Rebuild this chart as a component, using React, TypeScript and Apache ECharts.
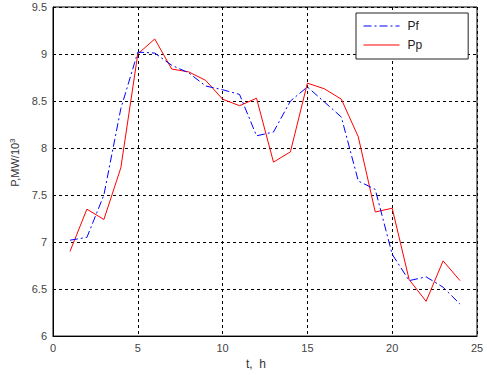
import React, { useEffect, useRef } from "react";
import * as echarts from "echarts";

const hours = [1, 2, 3, 4, 5, 6, 7, 8, 9, 10, 11, 12, 13, 14, 15, 16, 17, 18, 19, 20, 21, 22, 23, 24];
const pf = [7.02, 7.05, 7.5, 8.42, 9.02, 9.01, 8.88, 8.8, 8.66, 8.62, 8.57, 8.13, 8.17, 8.5, 8.65, 8.49, 8.33, 7.65, 7.56, 6.87, 6.59, 6.63, 6.52, 6.34];
const pp = [6.9, 7.35, 7.24, 7.79, 9.0, 9.16, 8.84, 8.81, 8.72, 8.52, 8.45, 8.53, 7.85, 7.96, 8.69, 8.63, 8.52, 8.12, 7.32, 7.36, 6.6, 6.37, 6.8, 6.59];
const seriesNames = ["Pf", "Pp"];
const xLabel = "t,  h";

export default function App() {
  const ref = useRef<HTMLDivElement>(null);
  useEffect(() => {
    if (!ref.current) return;
    const chart = echarts.init(ref.current, null, { renderer: "svg" });
    const font = "Liberation Sans, Arial, sans-serif";
    const grid = { lineStyle: { color: "#000", type: [3, 3] as any, width: 1 } };
    chart.setOption({
      animation: false,
      backgroundColor: "#fff",
      grid: { left: 51, right: 10, top: 7, bottom: 34, show: true, borderColor: "#000", borderWidth: 1, backgroundColor: "transparent" },
      legend: {
        orient: "vertical",
        left: 356,
        top: 13,
        padding: [7, 46, 8, 7],
        itemGap: 7,
        itemWidth: 36,
        itemHeight: 10,
        borderColor: "#222",
        borderWidth: 1,
        backgroundColor: "#fff",
        itemStyle: { opacity: 0 },
        lineStyle: { width: 1 },
        textStyle: { fontFamily: font, fontSize: 12, color: "#222", padding: [0, 0, 0, 3] },
        data: seriesNames,
      },
      xAxis: {
        type: "value",
        min: 0,
        max: 25,
        interval: 5,
        axisLine: { show: true, onZero: false, lineStyle: { color: "#000" } },
        axisTick: { show: false },
        splitLine: { show: true, ...grid },
        axisLabel: { fontFamily: font, fontSize: 11, color: "#444", margin: 6 },
        name: xLabel,
        nameLocation: "middle",
        nameGap: 20,
        nameTextStyle: { fontFamily: font, fontSize: 12, color: "#333", padding: [0, 18, 0, 0] },
      },
      yAxis: {
        type: "value",
        min: 6,
        max: 9.5,
        interval: 0.5,
        axisLine: { show: true, onZero: false, lineStyle: { color: "#000" } },
        axisTick: { show: false },
        splitLine: { show: true, ...grid },
        axisLabel: { fontFamily: font, fontSize: 11, color: "#444", margin: 6 },
        name: "{a|P,MW/10}{s|3}",
        nameLocation: "middle",
        nameRotate: 90,
        nameGap: 31,
        nameTextStyle: {
          fontFamily: font,
          fontSize: 11,
          color: "#333",
          padding: [0, 0, 0, 18],
          rich: {
            a: { fontFamily: font, fontSize: 11, color: "#333" },
            s: { fontFamily: font, fontSize: 8, color: "#333", verticalAlign: "top", padding: [0, 0, 6, 0] },
          },
        },
      },
      series: [
        {
          name: seriesNames[0],
          type: "line",
          data: hours.map((h, i) => [h, pf[i]]),
          symbol: "none",
          lineStyle: { color: "#0000ff", width: 1, type: [8, 3, 2, 3] },
          itemStyle: { color: "#0000ff" },
          z: 3,
        },
        {
          name: seriesNames[1],
          type: "line",
          data: hours.map((h, i) => [h, pp[i]]),
          symbol: "none",
          lineStyle: { color: "#ff0000", width: 1, type: "solid" },
          itemStyle: { color: "#ff0000" },
          z: 2,
        },
      ],
    });
    return () => chart.dispose();
  }, []);
  return <div ref={ref} style={{ position: "fixed", left: 0, top: 0, width: 487, height: 375 }} />;
}
